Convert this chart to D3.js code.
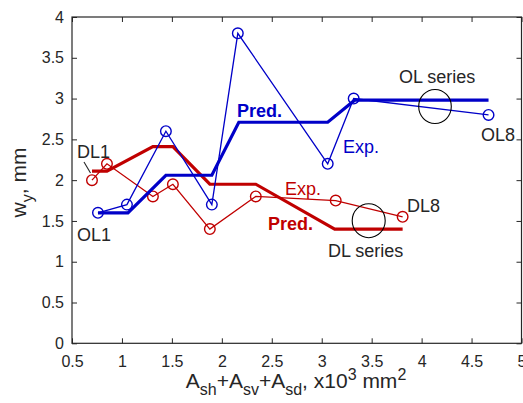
<!DOCTYPE html>
<html>
<head>
<meta charset="utf-8">
<script src="https://cdn.jsdelivr.net/npm/d3@7"></script>
<style>
  body { margin: 0; background: #fff; }
  svg { font-family: "Liberation Sans", Arial, sans-serif; }
</style>
</head>
<body>
<svg id="chart" width="523" height="403"></svg>
<script>
// OL series (blue)
let olX = [0.76, 1.05, 1.44, 1.9, 2.16, 3.06, 3.32, 4.67];
let olExp = [1.6, 1.7, 2.6, 1.7, 3.8, 2.2, 3.0, 2.8];
let olPredX = [0.76, 1.06, 1.44, 1.9, 2.17, 3.06, 3.33, 4.67];
let olPred = [1.6, 1.6, 2.06, 2.06, 2.71, 2.71, 2.98, 2.98];
// DL series (red)
let dlX = [0.7, 0.85, 1.31, 1.51, 1.88, 2.34, 3.14, 3.81];
let dlExp = [2.0, 2.2, 1.8, 1.95, 1.4, 1.8, 1.75, 1.55];
let dlPredX = [0.7, 0.85, 1.31, 1.51, 1.88, 2.34, 3.13, 3.81];
let dlPred = [2.11, 2.11, 2.41, 2.41, 1.95, 1.95, 1.4, 1.4];

let xTicks = [0.5, 1, 1.5, 2, 2.5, 3, 3.5, 4, 4.5, 5];
let yTicks = [0, 0.5, 1, 1.5, 2, 2.5, 3, 3.5, 4];

let mLeft = 72, mRight = 521.5, mTop = 17, mBottom = 343.3;
let blue = "#0000c8", red = "#c00000", txt = "#262626";

let svg = d3.select("#chart");
let x = d3.scaleLinear().domain([0.5, 5]).range([mLeft, mRight]);
let y = d3.scaleLinear().domain([0, 4]).range([mBottom, mTop]);

//axes - ticks point inward on all four sides
function styleAxis(g) {
    g.select(".domain").remove();
    g.selectAll("line").attr("stroke", txt);
    g.selectAll("text").attr("fill", txt).style("font-size", "16px")
        .style("font-family", "'Liberation Sans', Arial, sans-serif");
}
svg.append("g").attr("transform", "translate(0," + mBottom + ")")
    .call(d3.axisBottom(x).tickValues(xTicks).tickFormat(d3.format("")).tickSizeInner(-5).tickPadding(12))
    .call(styleAxis);
svg.append("g").attr("transform", "translate(0," + mTop + ")")
    .call(d3.axisTop(x).tickValues(xTicks).tickFormat("").tickSizeInner(-5))
    .call(styleAxis);
svg.append("g").attr("transform", "translate(" + mLeft + ",0)")
    .call(d3.axisLeft(y).tickValues(yTicks).tickFormat(d3.format("")).tickSizeInner(-5).tickPadding(8))
    .call(styleAxis);
svg.append("g").attr("transform", "translate(" + mRight + ",0)")
    .call(d3.axisRight(y).tickValues(yTicks).tickFormat("").tickSizeInner(-5))
    .call(styleAxis);
svg.append("rect").attr("x", mLeft).attr("y", mTop)
    .attr("width", mRight - mLeft).attr("height", mBottom - mTop)
    .attr("fill", "none").attr("stroke", txt).attr("stroke-width", 1.2);

let line = d3.line().x(d => x(d[0])).y(d => y(d[1]));

function drawSeries(xs, exp, px, pred, color) {
    svg.append("path").datum(d3.zip(px, pred)).attr("d", line)
        .attr("fill", "none").attr("stroke", color).attr("stroke-width", 3.2);
    svg.append("path").datum(d3.zip(xs, exp)).attr("d", line)
        .attr("fill", "none").attr("stroke", color).attr("stroke-width", 1.3);
    svg.selectAll(null).data(d3.zip(xs, exp)).join("circle")
        .attr("cx", d => x(d[0])).attr("cy", d => y(d[1])).attr("r", 5.3)
        .attr("fill", "none").attr("stroke", color).attr("stroke-width", 1.4);
}
drawSeries(dlX, dlExp, dlPredX, dlPred, red);
drawSeries(olX, olExp, olPredX, olPred, blue);

//annotations
function label(px, py, s, color, size, weight) {
    svg.append("text").attr("x", px).attr("y", py).attr("fill", color)
        .style("font-size", size + "px").style("font-weight", weight || "normal").text(s);
}
label(237, 117, "Pred.", blue, 18, "bold");
label(343, 153, "Exp.", blue, 18);
label(399, 83, "OL series", txt, 18);
label(481, 141, "OL8", txt, 18);
label(77, 241, "OL1", txt, 18);
label(77, 158, "DL1", txt, 18);
label(285, 195, "Exp.", red, 18);
label(268, 230, "Pred.", red, 18, "bold");
label(407, 212, "DL8", txt, 18);
label(328, 257, "DL series", txt, 18);

svg.append("line").attr("x1", 84).attr("y1", 162).attr("x2", 90.5).attr("y2", 173)
    .attr("stroke", txt).attr("stroke-width", 1.1);
svg.append("ellipse").attr("cx", 435).attr("cy", 106.5).attr("rx", 16.3).attr("ry", 17)
    .attr("fill", "none").attr("stroke", "#000").attr("stroke-width", 1.1);
svg.append("ellipse").attr("cx", 368.7).attr("cy", 220.7).attr("rx", 16.5).attr("ry", 17)
    .attr("fill", "none").attr("stroke", "#000").attr("stroke-width", 1.1);

//axis labels
let xl = svg.append("text").attr("x", 296).attr("y", 388)
    .attr("text-anchor", "middle").attr("fill", txt).style("font-size", "21px");
xl.append("tspan").text("A");
xl.append("tspan").attr("dy", 7).style("font-size", "16px").text("sh");
xl.append("tspan").attr("dy", -7).text("+A");
xl.append("tspan").attr("dy", 7).style("font-size", "16px").text("sv");
xl.append("tspan").attr("dy", -7).text("+A");
xl.append("tspan").attr("dy", 7).style("font-size", "16px").text("sd");
xl.append("tspan").attr("dy", -7).text(", x10");
xl.append("tspan").attr("dy", -8).style("font-size", "16px").text("3");
xl.append("tspan").attr("dy", 8).text(" mm");
xl.append("tspan").attr("dy", -8).style("font-size", "16px").text("2");

let yl = svg.append("text").attr("transform", "translate(25.5,182.5) rotate(-90)")
    .attr("text-anchor", "middle").attr("fill", txt).style("font-size", "21px");
yl.append("tspan").text("w");
yl.append("tspan").attr("dy", 7).style("font-size", "16px").text("y");
yl.append("tspan").attr("dy", -7).text(", mm");
</script>
</body>
</html>
